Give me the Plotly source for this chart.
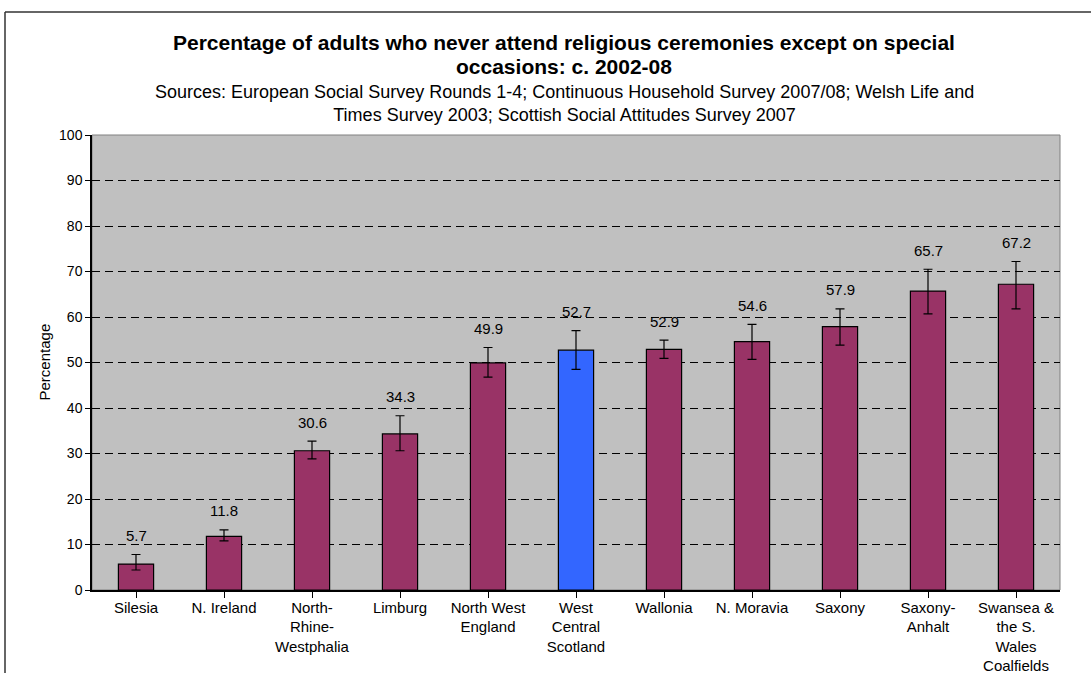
import plotly.graph_objects as go

categories = ["Silesia", "N. Ireland", "North-<br>Rhine-<br>Westphalia", "Limburg",
              "North West<br>England", "West<br>Central<br>Scotland", "Wallonia",
              "N. Moravia", "Saxony", "Saxony-<br>Anhalt",
              "Swansea &<br>the S.<br>Wales<br>Coalfields"]
values = [5.7, 11.8, 30.6, 34.3, 49.9, 52.7, 52.9, 54.6, 57.9, 65.7, 67.2]
err_plus = [2.1, 1.4, 2.1, 4.0, 3.4, 4.3, 2.0, 3.8, 3.9, 4.8, 5.0]
err_minus = [1.3, 1.0, 1.8, 3.7, 3.1, 4.2, 2.0, 3.9, 4.1, 5.0, 5.4]
highlight = "West<br>Central<br>Scotland"
y_ticks = list(range(0, 101, 10))

PURPLE = "#993366"
BLUE = "#3366FF"
FONT = "Liberation Sans, Arial, sans-serif"

colors = [BLUE if c == highlight else PURPLE for c in categories]
x_idx = list(range(len(categories)))

fig = go.Figure()
fig.add_trace(go.Bar(
    x=x_idx, y=values, width=0.4,
    marker=dict(color=colors, line=dict(color="black", width=1.2)),
    error_y=dict(type="data", symmetric=False, array=err_plus, arrayminus=err_minus,
                 color="black", thickness=1.2, width=4.5),
    hoverinfo="skip",
))

ML, MR, MT, MB = 92, 31, 135, 83
W, H = 1091, 673
PW, PH = W - ML - MR, H - MT - MB

def px_x(p):
    return (p - ML) / PW

def px_y(p):
    return 1 + (MT - p) / PH

annotations = []
for i, (v, ep) in enumerate(zip(values, err_plus)):
    annotations.append(dict(x=i, y=v + ep, xref="x", yref="y", text=f"{v:.1f}",
                            showarrow=False, yanchor="middle", yshift=19,
                            font=dict(family=FONT, size=15, color="black")))

annotations.append(dict(x=px_x(564), y=px_y(42), xref="paper", yref="paper",
                        text="<b>Percentage of adults who never attend religious ceremonies except on special</b>",
                        showarrow=False, xanchor="center", yanchor="middle",
                        font=dict(family=FONT, size=21, color="black")))
annotations.append(dict(x=px_x(564), y=px_y(66), xref="paper", yref="paper",
                        text="<b>occasions: c. 2002-08</b>",
                        showarrow=False, xanchor="center", yanchor="middle",
                        font=dict(family=FONT, size=21, color="black")))
annotations.append(dict(x=px_x(564), y=px_y(103), xref="paper", yref="paper",
                        text="Sources: European Social Survey Rounds 1-4; Continuous Household Survey 2007/08; Welsh Life and<br>Times Survey 2003; Scottish Social Attitudes Survey 2007",
                        showarrow=False, xanchor="center", yanchor="middle",
                        font=dict(family=FONT, size=18, color="black")))
annotations.append(dict(x=px_x(44), y=0.5, xref="paper", yref="paper",
                        text="Percentage", textangle=-90, showarrow=False,
                        xanchor="center", yanchor="middle",
                        font=dict(family=FONT, size=15, color="black")))

shapes = [
    dict(type="rect", xref="paper", yref="paper", x0=0, x1=1, y0=0, y1=1,
         line=dict(color="#808080", width=1), layer="below"),
    dict(type="line", xref="paper", yref="paper", x0=px_x(5), x1=px_x(5),
         y0=px_y(12), y1=px_y(700), line=dict(color="#333333", width=1.5)),
    dict(type="line", xref="paper", yref="paper", x0=px_x(5), x1=px_x(1100),
         y0=px_y(12), y1=px_y(12), line=dict(color="#333333", width=1.5)),
]

fig.update_layout(
    width=W, height=H,
    margin=dict(l=ML, r=MR, t=MT, b=MB, autoexpand=False),
    paper_bgcolor="white", plot_bgcolor="#C0C0C0",
    showlegend=False, bargap=0.6,
    font=dict(family=FONT, color="black"),
    annotations=annotations, shapes=shapes,
    xaxis=dict(
        tickmode="array", tickvals=x_idx, ticktext=categories,
        range=[-0.5, len(categories) - 0.5], automargin=False,
        showgrid=False, zeroline=False,
        showline=True, linecolor="black", linewidth=1.5,
        ticks="outside", ticklen=6, tickcolor="black", tickwidth=1,
        ticklabelstandoff=-3,
        tickfont=dict(family=FONT, size=15, color="black"),
    ),
    yaxis=dict(
        range=[0, 100], tickmode="array", tickvals=y_ticks, automargin=False,
        showgrid=True, gridcolor="black", gridwidth=1, griddash="8px,5px",
        zeroline=False, showline=True, linecolor="black", linewidth=1.5,
        ticks="outside", ticklen=5, tickcolor="black", tickwidth=1,
        tickfont=dict(family=FONT, size=14, color="black"),
    ),
)

fig.write_html("out.html", config={"displayModeBar": False},
               post_script="document.body.style.margin='0';document.body.style.overflow='hidden';")
